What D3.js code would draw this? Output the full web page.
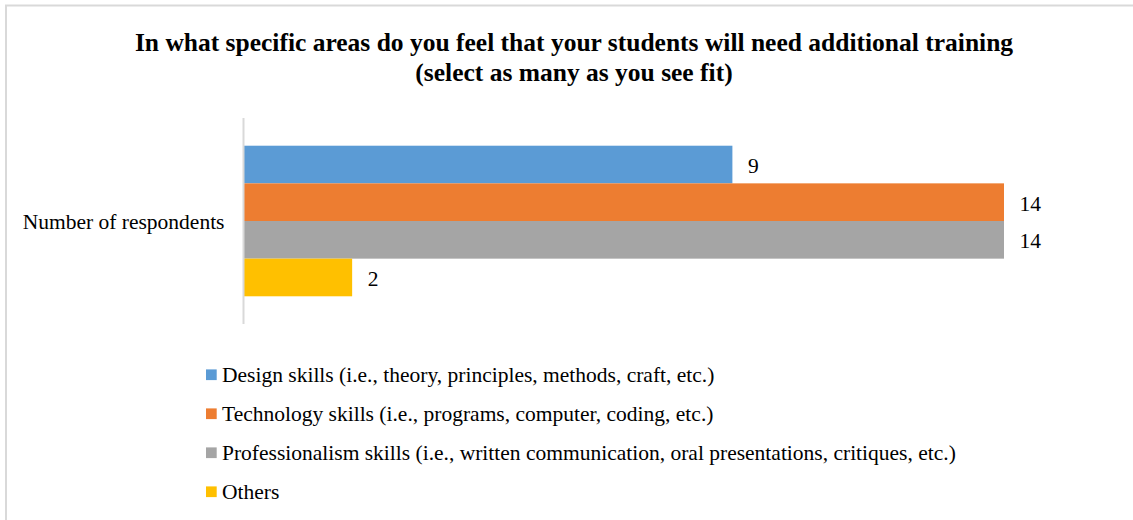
<!DOCTYPE html>
<html lang="en">
<head>
    <meta charset="UTF-8">
    <title>Additional training areas</title>
    <script src="https://d3js.org/d3.v7.min.js"></script>
    <style>
        body {
            margin: 0;
            background: #fff;
        }
        svg text {
            font-family: "Liberation Serif", "Times New Roman", serif;
            fill: #000;
        }
        .title {
            font-size: 25.5px;
            font-weight: bold;
        }
        .cat-label, .value-label, .legend-label {
            font-size: 21.5px;
        }
    </style>
</head>
<body>
    <div id="chart"></div>
    <script>
        // data
        const titleLines = [
            "In what specific areas do you feel that your students will need additional training",
            "(select as many as you see fit)"
        ];
        const category = "Number of respondents";
        const seriesNames = [
            "Design skills (i.e., theory, principles, methods, craft, etc.)",
            "Technology skills (i.e., programs, computer, coding, etc.)",
            "Professionalism skills (i.e., written communication, oral presentations, critiques, etc.)",
            "Others"
        ];
        const seriesValues = [9, 14, 14, 2];
        const seriesColors = ["#5B9BD5", "#ED7D31", "#A5A5A5", "#FFC000"];

        const width = 1133, height = 520;

        const svg = d3.select("#chart")
            .append("svg")
            .attr("width", width)
            .attr("height", height);

        // chart border (runs off the right and bottom edge)
        svg.append("rect")
            .attr("x", 6)
            .attr("y", 5.5)
            .attr("width", width + 20)
            .attr("height", height + 20)
            .attr("fill", "none")
            .attr("stroke", "#d9d9d9")
            .attr("stroke-width", 2);

        svg.selectAll(".title")
            .data(titleLines)
            .enter()
            .append("text")
            .attr("class", "title")
            .attr("x", 574)
            .attr("y", (d, i) => 51 + i * 30)
            .attr("text-anchor", "middle")
            .text(d => d);

        const plotLeft = 243.5, plotTop = 118, plotBottom = 324;

        // one category, bars stacked inside it by series
        const y0 = d3.scaleBand()
            .domain([category])
            .range([plotTop, plotBottom])
            .paddingInner(0)
            .paddingOuter(0.184);

        const y1 = d3.scaleBand()
            .domain(d3.range(seriesValues.length))
            .range([0, y0.bandwidth()]);

        const x = d3.scaleLinear()
            .domain([0, 14])
            .range([plotLeft, 1004]);

        svg.append("g")
            .selectAll("rect")
            .data(seriesValues)
            .enter()
            .append("rect")
            .attr("x", x(0))
            .attr("y", (d, i) => y0(category) + y1(i))
            .attr("width", d => x(d) - x(0))
            .attr("height", y1.bandwidth())
            .attr("fill", (d, i) => seriesColors[i]);

        svg.append("g")
            .selectAll("text")
            .data(seriesValues)
            .enter()
            .append("text")
            .attr("class", "value-label")
            .attr("x", d => x(d) + 15.5)
            .attr("y", (d, i) => y0(category) + y1(i) + y1.bandwidth() / 2)
            .attr("dy", "0.4em")
            .text(d => d);

        // vertical category axis
        const yAxis = svg.append("g")
            .attr("transform", `translate(${plotLeft},0)`)
            .call(d3.axisLeft(y0).tickSize(0).tickPadding(19));
        yAxis.select(".domain")
            .attr("d", `M0,${plotTop}V${plotBottom}`)
            .attr("stroke", "#d9d9d9")
            .attr("stroke-width", 2);
        yAxis.selectAll("text")
            .attr("class", "cat-label")
            .attr("dy", "0.37em");

        // legend
        const legend = svg.append("g")
            .selectAll("g")
            .data(seriesNames)
            .enter()
            .append("g")
            .attr("transform", (d, i) => `translate(206,${374.7 + i * 39})`);

        legend.append("rect")
            .attr("y", -5.3)
            .attr("width", 10.7)
            .attr("height", 10.7)
            .attr("fill", (d, i) => seriesColors[i]);

        legend.append("text")
            .attr("class", "legend-label")
            .attr("x", 16)
            .attr("y", 7)
            .text(d => d);
    </script>
</body>
</html>
